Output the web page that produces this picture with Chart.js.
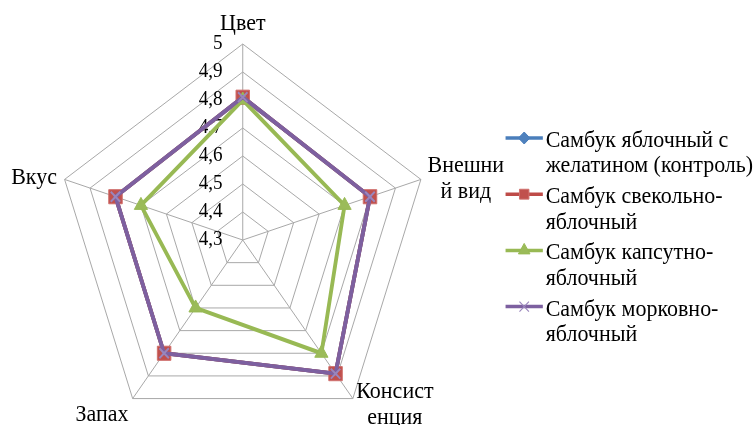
<!DOCTYPE html>
<html>
<head>
<meta charset="utf-8">
<script src="https://cdn.jsdelivr.net/npm/chart.js@4.4.0/dist/chart.umd.min.js"></script>
<style>
  html, body { margin: 0; padding: 0; background: #ffffff; overflow: hidden; }
  #wrap { width: 755px; height: 440px; }
</style>
</head>
<body>
<div id="wrap"><canvas id="radar"></canvas></div>
<script>
// Axes of the sensory profile
const categories = ['Цвет', ['Внешни', 'й вид'], ['Консист', 'енция'], 'Запах', 'Вкус'];

// Series names (two lines each, as in the legend)
const seriesNames = [
  ['Самбук яблочный с', 'желатином (контроль)'],
  ['Самбук свекольно-', 'яблочный'],
  ['Самбук капсутно-', 'яблочный'],
  ['Самбук морковно-', 'яблочный']
];

// Scores per axis
const controlValues = [4.81, 4.8, 4.89, 4.8, 4.8];
const beetValues    = [4.81, 4.8, 4.89, 4.8, 4.8];
const cabbageValues = [4.8, 4.7, 4.8, 4.6, 4.7];
const carrotValues  = [4.81, 4.8, 4.89, 4.8, 4.8];

// Radial scale ticks
const tickValues = [4.3, 4.4, 4.5, 4.6, 4.7, 4.8, 4.9, 5];
const tickLabels = ['4,3', '4,4', '4,5', '4,6', '4,7', '4,8', '4,9', '5'];

const FONT_FAMILY = '"Liberation Serif"';
const TICK_FONT = '20px ' + FONT_FAMILY;
const TEXT_FONT = '23px ' + FONT_FAMILY;

// The drawing is narrowed horizontally by this factor
const X_SQUEEZE = 0.9557;

// Series styling
const seriesStyle = [
  { line: '#4A7EBB', fill: '#4F81BD', edge: '#4A7EBB', point: 'rectRot', radius: 6, legendRadius: 6 },
  { line: '#BE4B48', fill: '#C0504D', edge: '#D0716E', point: 'rect', radius: 10, legendRadius: 7 },
  { line: '#98B954', fill: '#9BBB59', edge: '#98B954', point: 'triangle', radius: 8, legendRadius: 7 },
  { line: '#7D60A0', fill: '#7D60A0', edge: '#9A86BC', point: 'crossRot', radius: 7, legendRadius: 7 }
];
const seriesValues = [controlValues, beetValues, cabbageValues, carrotValues];

// Placement of the axis captions relative to each outer vertex
const captionPlacement = [
  { dx: 0,   dy: -14, align: 'center' },
  { dx: 47,  dy: -7,  align: 'center' },
  { dx: 44,  dy: -1,  align: 'center' },
  { dx: -32, dy: 22,  align: 'center' },
  { dx: -8,  dy: 5,   align: 'right' }
];
const captionLineGap = 26;

// Legend geometry
const legendLine = { x0: 529, x1: 568, textX: 571, firstBaseline: 147, itemStep: 56.2, lineStep: 25.3, markerDy: -9 };

function drawMarker(ctx, style, x, y, r) {
  ctx.save();
  ctx.fillStyle = style.fill;
  ctx.strokeStyle = style.edge;
  ctx.lineWidth = 1;
  ctx.beginPath();
  if (style.point === 'rectRot') {
    ctx.moveTo(x, y - r); ctx.lineTo(x + r, y); ctx.lineTo(x, y + r); ctx.lineTo(x - r, y); ctx.closePath();
    ctx.fill(); ctx.stroke();
  } else if (style.point === 'rect') {
    const s = r * Math.SQRT1_2;
    ctx.rect(x - s, y - s, 2 * s, 2 * s);
    ctx.fill(); ctx.stroke();
  } else if (style.point === 'triangle') {
    ctx.moveTo(x, y - r); ctx.lineTo(x + r * 0.866, y + r * 0.5); ctx.lineTo(x - r * 0.866, y + r * 0.5); ctx.closePath();
    ctx.fill(); ctx.stroke();
  } else {
    const s = r * Math.SQRT1_2;
    ctx.strokeStyle = style.edge;
    ctx.lineWidth = 1.2;
    ctx.moveTo(x - s, y - s); ctx.lineTo(x + s, y + s);
    ctx.moveTo(x + s, y - s); ctx.lineTo(x - s, y + s);
    ctx.stroke();
  }
  ctx.restore();
}

const decorations = {
  id: 'decorations',
  beforeDraw(chart) {
    chart.ctx.save();
    chart.ctx.scale(X_SQUEEZE, 1);
  },
  beforeDatasetsDraw(chart) {
    const ctx = chart.ctx;
    const scale = chart.scales.r;
    ctx.save();
    ctx.fillStyle = '#000000';
    ctx.font = TICK_FONT;
    ctx.textAlign = 'right';
    ctx.textBaseline = 'middle';
    tickValues.forEach((v, i) => {
      const p = scale.getPointPosition(0, scale.getDistanceFromCenterForValue(v));
      ctx.fillText(tickLabels[i], p.x - 21, p.y);
    });
    ctx.restore();
  },
  afterDraw(chart) {
    const ctx = chart.ctx;
    const scale = chart.scales.r;
    ctx.save();
    ctx.fillStyle = '#000000';
    ctx.font = TEXT_FONT;
    ctx.textBaseline = 'alphabetic';
    categories.forEach((label, i) => {
      const p = scale.getPointPosition(i, scale.drawingArea);
      const place = captionPlacement[i];
      const lines = Array.isArray(label) ? label : [label];
      ctx.textAlign = place.align;
      lines.forEach((t, k) => ctx.fillText(t, p.x + place.dx, p.y + place.dy + k * captionLineGap));
    });

    // Legend
    ctx.textAlign = 'left';
    seriesNames.forEach((name, i) => {
      const base = legendLine.firstBaseline + i * legendLine.itemStep;
      const my = base + legendLine.markerDy;
      const st = seriesStyle[i];
      ctx.save();
      ctx.strokeStyle = st.line;
      ctx.lineWidth = 3.5;
      ctx.beginPath();
      ctx.moveTo(legendLine.x0, my);
      ctx.lineTo(legendLine.x1, my);
      ctx.stroke();
      ctx.restore();
      drawMarker(ctx, st, (legendLine.x0 + legendLine.x1) / 2, my, st.legendRadius);
      ctx.fillStyle = '#000000';
      ctx.font = TEXT_FONT;
      name.forEach((t, k) => ctx.fillText(t, legendLine.textX, base + k * legendLine.lineStep));
    });
    ctx.restore();
    ctx.restore();
  }
};

const datasets = seriesValues.map((vals, i) => {
  const st = seriesStyle[i];
  return {
    label: seriesNames[i].join(' '),
    data: vals,
    order: seriesValues.length - 1 - i,
    fill: false,
    borderColor: st.line,
    borderWidth: 4,
    pointStyle: st.point,
    pointRadius: st.radius,
    pointBackgroundColor: st.fill,
    pointBorderColor: st.edge,
    pointBorderWidth: st.point === 'crossRot' ? 2 : 1,
    tension: 0
  };
});

new Chart(document.getElementById('radar'), {
  type: 'radar',
  data: { labels: categories.map(c => Array.isArray(c) ? c.join('') : c), datasets },
  options: {
    responsive: true,
    maintainAspectRatio: false,
    animation: false,
    events: [],
    layout: { padding: { left: 58, right: 305, top: 44, bottom: 4 } },
    plugins: { legend: { display: false }, tooltip: { enabled: false } },
    scales: {
      r: {
        min: 4.3,
        max: 5,
        ticks: { display: false, stepSize: 0.1 },
        grid: { color: '#A6A6A6', lineWidth: 1, circular: false },
        angleLines: { display: true, color: '#A6A6A6', lineWidth: 1 },
        pointLabels: { display: false }
      }
    }
  },
  plugins: [decorations]
});
</script>
</body>
</html>
